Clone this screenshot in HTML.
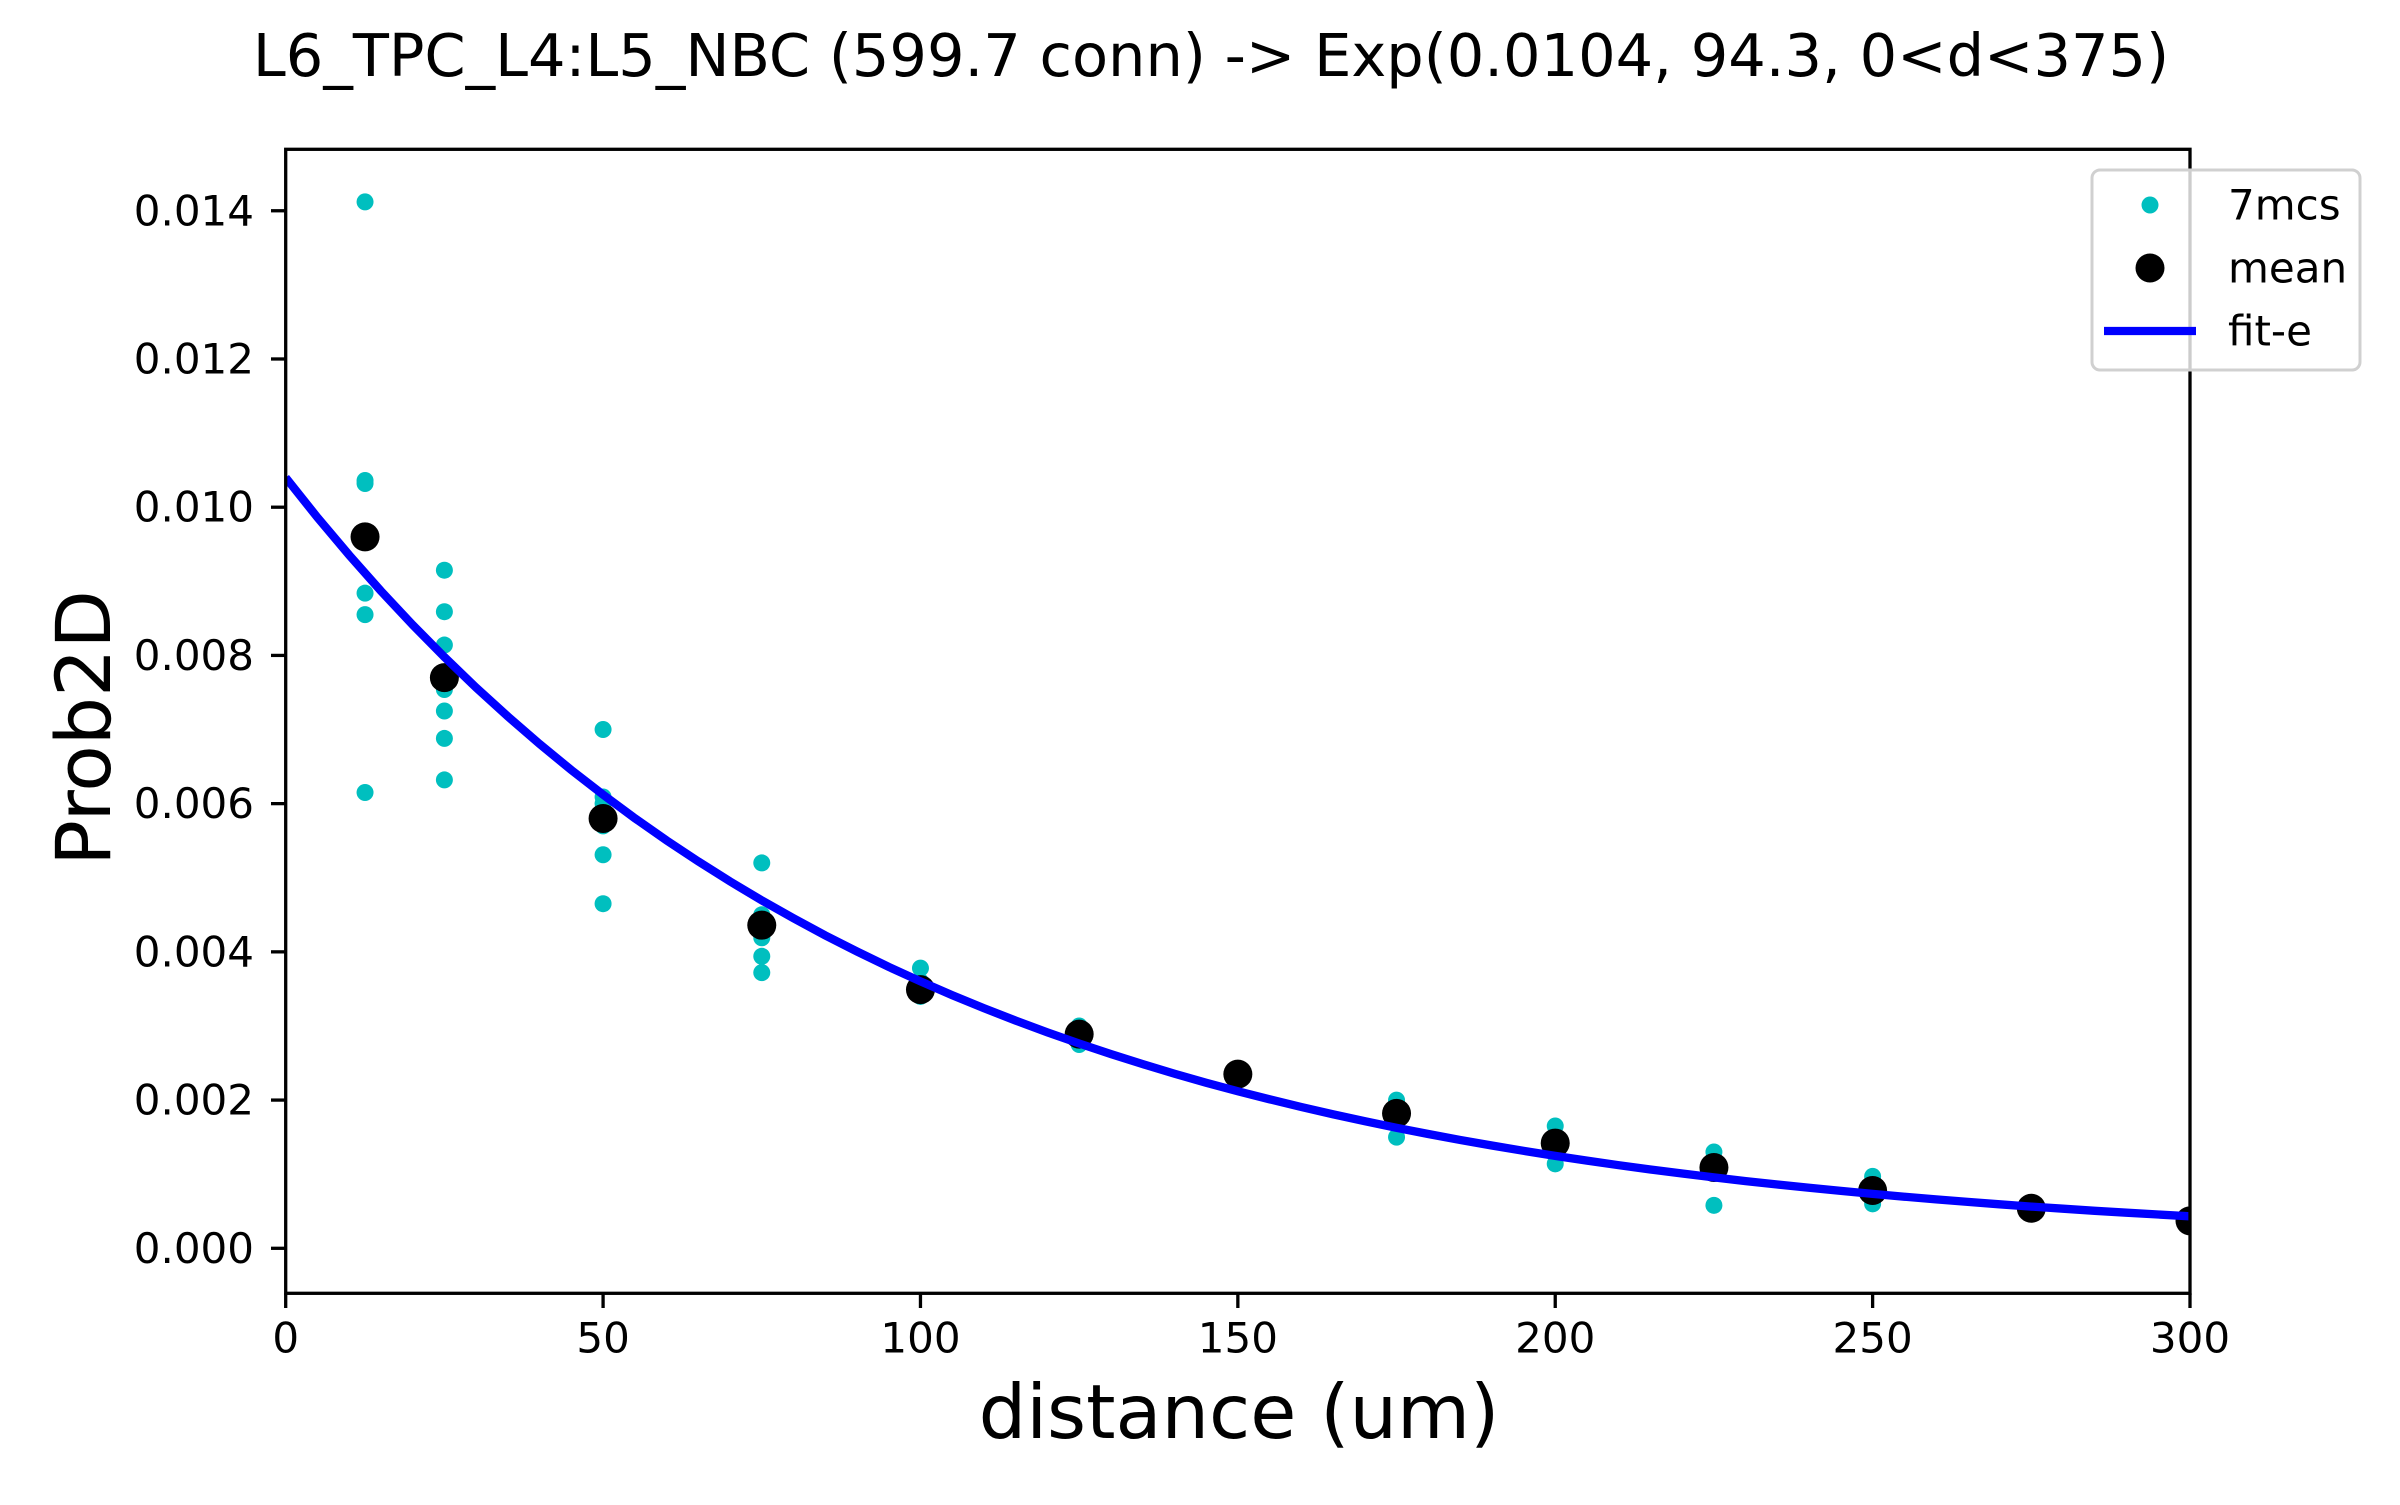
<!DOCTYPE html>
<html><head><meta charset="utf-8"><style>
html,body{margin:0;padding:0;background:#fff;}
text{font-family:"DejaVu Sans","Liberation Sans",sans-serif;fill:#000;}
</style></head><body>
<svg id="chart" width="2400" height="1500" viewBox="0 0 2400 1500" xmlns="http://www.w3.org/2000/svg">
<defs><clipPath id="plotclip"><rect x="285.7" y="149.3" width="1904.3" height="1144"/></clipPath></defs>
<rect width="2400" height="1500" fill="#fff"/>
<text x="1211" y="76" font-size="59" text-anchor="middle">L6_TPC_L4:L5_NBC (599.7 conn) -&gt; Exp(0.0104, 94.3, 0&lt;d&lt;375)</text>
<g id="xticks"></g><g id="yticks"></g>
<g id="plot" clip-path="url(#plotclip)"></g>
<rect x="285.7" y="149.3" width="1904.3" height="1144" fill="none" stroke="#000" stroke-width="3.3"/>
<text x="1239" y="1438" font-size="75" text-anchor="middle">distance (um)</text>
<text x="110" y="728" font-size="76" text-anchor="middle" transform="rotate(-90 110 728)">Prob2D</text>
<g>
<rect x="2092" y="170" width="268" height="200" rx="8" fill="#fff" fill-opacity="0.8" stroke="#d0d0d0" stroke-width="3"/>
<g><circle cx="2150" cy="205" r="8.5" fill="#00bfbf"/><text x="2228" y="205" font-size="42" dominant-baseline="central">7mcs</text></g>
<g><circle cx="2150" cy="268" r="14.5" fill="#000"/><text x="2228" y="268" font-size="42" dominant-baseline="central">mean</text></g>
<g><line x1="2104" y1="331" x2="2196" y2="331" stroke="#0000ff" stroke-width="8.3"/><text x="2228" y="331" font-size="42" dominant-baseline="central">fit-e</text></g>
</g>
</svg>
<script>
const distances = [12.5,25,50,75,100,125,150,175,200,225,250,275,300];
const mcsValues = [
 [0.01412,0.01036,0.01032,0.00884,0.00855,0.00615,0.0096],
 [0.00915,0.00859,0.00814,0.00754,0.00725,0.00688,0.00632],
 [0.0070,0.00609,0.00531,0.00465,0.0059,0.0057,0.0060],
 [0.0052,0.0045,0.00419,0.00394,0.00372,0.00434,0.0044],
 [0.00378,0.0036,0.0034,0.0035,0.0035,0.0034,0.0035],
 [0.00295,0.00275,0.0029,0.0029,0.0028,0.0030,0.0029],
 [0.0024,0.0023,0.00235,0.0024,0.0023,0.00235,0.0024],
 [0.0020,0.0015,0.0018,0.0019,0.0018,0.0018,0.0019],
 [0.00165,0.00114,0.0014,0.0015,0.0014,0.0014,0.0013],
 [0.0013,0.00058,0.0011,0.0012,0.0011,0.0012,0.0012],
 [0.00097,0.0006,0.0008,0.0008,0.0007,0.0008,0.0008],
 [0.00055,0.0005,0.00055,0.0006,0.0005,0.00055,0.0006],
 [0.0004,0.0003,0.00035,0.0004,0.0004,0.00035,0.0004]
];
const meanValues = [0.0096,0.0077,0.0058,0.00436,0.00349,0.00289,0.00235,0.00182,0.00142,0.00109,0.00078,0.00054,0.00037];
const fitParams = [0.0104, 94.3];
const xTickValues = [0,50,100,150,200,250,300];
const yTickValues = [0,0.002,0.004,0.006,0.008,0.010,0.012,0.014];
const yTickLabels = ["0.000","0.002","0.004","0.006","0.008","0.010","0.012","0.014"];

const NS="http://www.w3.org/2000/svg";
const X0=285.7,X1=2190,Y0=1248.3,YPER=74110;
function sx(v){return X0+(v-0)*(X1-X0)/300;}
function sy(v){return Y0-v*YPER;}
function mk(tag,attrs,parent){const e=document.createElementNS(NS,tag);for(const k in attrs)e.setAttribute(k,attrs[k]);parent.appendChild(e);return e;}
const plot=document.getElementById('plot');
distances.forEach((d,i)=>{mcsValues[i].forEach(v=>{
 const c=mk('circle',{cx:sx(d),cy:sy(v),r:8.5,fill:'#00bfbf'},plot);
 
 
});});
distances.forEach((d,i)=>{
 const c=mk('circle',{cx:sx(d),cy:sy(meanValues[i]),r:14.5,fill:'#000'},plot);
 
 
});
let pts=[];for(let k=0;k<=60;k++){const d=k*5;pts.push(sx(d).toFixed(1)+','+sy(fitParams[0]*Math.exp(-d/fitParams[1])).toFixed(1));}
const fl=mk('polyline',{points:pts.join(' '),fill:'none',stroke:'#0000ff','stroke-width':8.3},plot);


const xt=document.getElementById('xticks');
xTickValues.forEach(v=>{
 const l=mk('line',{x1:sx(v),x2:sx(v),y1:1293.3,y2:1308,stroke:'#000','stroke-width':3.3},xt);
 
 
 const t=mk('text',{x:sx(v),y:1338,'font-size':42,'text-anchor':'middle','dominant-baseline':'central'},xt);
 t.textContent=String(v);
 
 
});
const yt=document.getElementById('yticks');
yTickValues.forEach((v,i)=>{
 const l=mk('line',{x1:271,x2:285.7,y1:sy(v),y2:sy(v),stroke:'#000','stroke-width':3.3},yt);
 
 
 const t=mk('text',{x:254,y:sy(v),'font-size':42,'text-anchor':'end','dominant-baseline':'central'},yt);
 t.textContent=yTickLabels[i];
 
 
});
</script>
</body></html>
